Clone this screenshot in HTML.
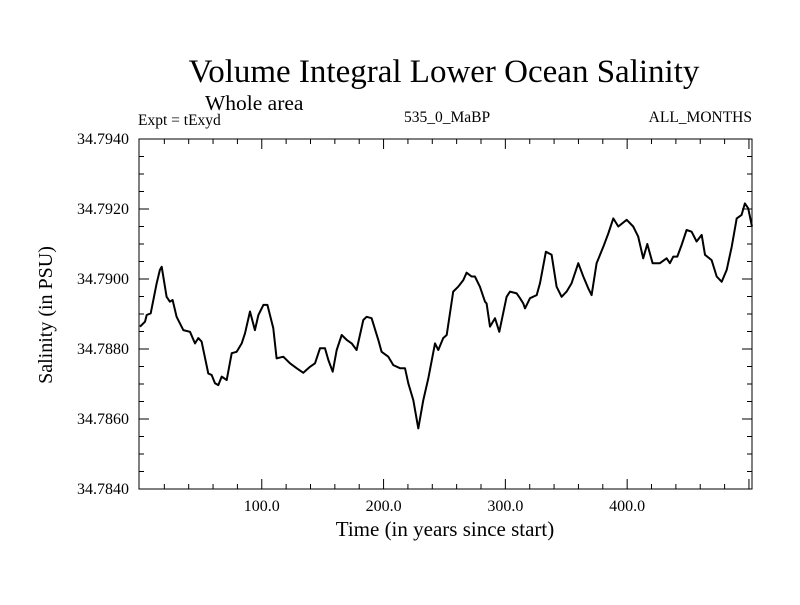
<!DOCTYPE html>
<html><head><meta charset="utf-8"><style>
body{margin:0;background:#fff}
svg text{font-family:"Liberation Serif",serif;fill:#000}
</style></head><body>
<svg id="chart" width="800" height="600" xmlns="http://www.w3.org/2000/svg">
<rect width="800" height="600" fill="#fff"/>
<text x="444" y="82" font-size="33" text-anchor="middle">Volume Integral Lower Ocean Salinity</text>
<text x="205" y="110" font-size="21.5">Whole area</text>
<text x="138" y="125" font-size="15.5">Expt = tExyd</text>
<text x="447" y="122" font-size="15.5" text-anchor="middle">535_0_MaBP</text>
<text x="752" y="122" font-size="15.5" text-anchor="end">ALL_MONTHS</text>
<text x="445" y="536" font-size="21" text-anchor="middle">Time (in years since start)</text>
<text transform="translate(52,315) rotate(-90)" font-size="20" text-anchor="middle">Salinity (in PSU)</text>
<g id="axes"></g>
<path id="series" fill="none" stroke="#000" stroke-width="2" stroke-linejoin="round"/>
<rect x="139" y="139" width="613" height="350" fill="none" stroke="#000" stroke-width="1"/>
</svg>
<script>
const years=[0,4.1,5.5,8.8,13.7,16.4,17.8,21.9,24.6,26.8,30.1,35.6,41.1,45.2,47.9,50.6,56.1,58.8,61.6,64.3,67.1,71.2,75.3,79.4,83.5,86.2,90.3,94.4,97.2,101.3,104.6,109.5,112.2,117.7,123.2,128.6,134.1,139.6,143.7,147.8,151.9,154.6,158.2,161.5,165.6,169.7,173.8,177.9,183.4,186.1,190.2,195.7,198.4,203.9,208,213.5,217.6,220.3,224.4,228.5,232.6,236.7,242.2,244.9,249,251.8,257.2,261.3,265.5,268.2,272.3,275,279.1,283.3,284.6,287.4,291.5,295,301,303.8,309.3,312,314.7,316.1,320.2,325.7,328.4,333.3,338,342.1,346.2,350.3,354.4,359.9,364,368.1,370.8,374.9,380.4,384.5,388.6,392.7,399.6,405,409.1,413.2,416.5,420.9,426.9,432.4,435.1,437.9,441.2,444.7,448.8,452.9,457,461.2,463.9,469.3,473.5,477.6,481.7,485.8,489.9,494,496.7,499.4,502.5];
const salinity=[34.78864,34.78878,34.78897,34.78902,34.78988,34.79026,34.79035,34.78949,34.78935,34.7894,34.78892,34.78854,34.78849,34.78816,34.78831,34.78821,34.7873,34.78726,34.78702,34.78697,34.78721,34.78711,34.78788,34.78792,34.78816,34.78845,34.78907,34.78854,34.78897,34.78926,34.78926,34.78859,34.78773,34.78778,34.78759,34.78745,34.78732,34.78749,34.78759,34.78802,34.78802,34.78769,34.78735,34.78797,34.7884,34.78826,34.78816,34.78797,34.78883,34.78892,34.78888,34.78826,34.78792,34.78778,34.78754,34.78745,34.78745,34.78702,34.78654,34.78573,34.78654,34.78716,34.78816,34.78797,34.78831,34.7884,34.78964,34.78978,34.78997,34.79018,34.79007,34.79007,34.78978,34.78935,34.7893,34.78864,34.78888,34.78849,34.78949,34.78964,34.78959,34.78945,34.7893,34.78916,34.78945,34.78954,34.78988,34.79078,34.79069,34.78978,34.78949,34.78964,34.78988,34.79045,34.79007,34.78973,34.78954,34.79045,34.79092,34.7913,34.79173,34.7915,34.79169,34.7915,34.79121,34.79059,34.7910,34.79045,34.79045,34.79059,34.79045,34.79064,34.79064,34.79097,34.7914,34.79135,34.79107,34.79126,34.79069,34.79054,34.79007,34.78992,34.79026,34.79092,34.79173,34.79183,34.79216,34.79202,34.7915];
const xTickLabels=["100.0","200.0","300.0","400.0"];
const xTickValues=[100,200,300,400];
const yTickLabels=["34.7840","34.7860","34.7880","34.7900","34.7920","34.7940"];
const yTickValues=[34.784,34.786,34.788,34.790,34.792,34.794];

const X0=139,X1=752,Y0=489,Y1=139;
const xMin=-0.8,xMax=502.5,yMin=34.784,yMax=34.794;
function sx(v){return X0+(v-xMin)/(xMax-xMin)*(X1-X0);}
function sy(v){return Y0-(v-yMin)/(yMax-yMin)*(Y0-Y1);}
const NS="http://www.w3.org/2000/svg";
const g=document.getElementById('axes');
function line(x1,y1,x2,y2,name){const l=document.createElementNS(NS,'line');
l.setAttribute('x1',x1);l.setAttribute('y1',y1);l.setAttribute('x2',x2);l.setAttribute('y2',y2);
l.setAttribute('stroke','#000');l.setAttribute('stroke-width','1');


g.appendChild(l);}
function text(x,y,s,anchor,name){const t=document.createElementNS(NS,'text');
t.setAttribute('x',x);t.setAttribute('y',y);t.setAttribute('font-size','16');t.setAttribute('text-anchor',anchor);t.textContent=s;


g.appendChild(t);}
for(let v=20;v<xMax;v+=20){const x=sx(v);const major=(v%100===0);const L=major?10:5;
line(x,Y0,x,Y0-L,'x-tick');line(x,Y1,x,Y1+L,'x-tick-top');}
xTickValues.forEach((v,i)=>text(sx(v),Y0+22,xTickLabels[i],'middle','x-tick-label'));
for(let k=0;k<=20;k++){const v=yMin+k*0.0005;const y=sy(v);const major=(k%4===0);const L=major?10:5;
line(X0,y,X0+L,y,'y-tick');line(X1,y,X1-L,y,'y-tick-right');}
yTickValues.forEach((v,i)=>text(X0-10,sy(v)+5,yTickLabels[i],'end','y-tick-label'));
let d='';years.forEach((t,i)=>{d+=(i?'L':'M')+sx(t).toFixed(1)+','+sy(salinity[i]).toFixed(1);});
document.getElementById('series').setAttribute('d',d);
</script>
</body></html>
